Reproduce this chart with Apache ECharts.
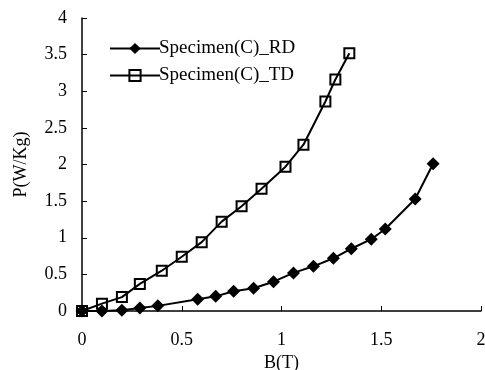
<!DOCTYPE html>
<html>
<head>
<meta charset="utf-8">
<script src="https://cdn.jsdelivr.net/npm/echarts/dist/echarts.min.js"></script>
<style>html,body{margin:0;padding:0;background:#fff}#c{width:485px;height:370px}</style>
</head>
<body>
<div id="c"></div>
<script>
var rdB = [0, 0.1, 0.2, 0.29, 0.38, 0.58, 0.67, 0.76, 0.86, 0.96, 1.06, 1.16, 1.26, 1.35, 1.45, 1.52, 1.67, 1.76];
var rdP = [0, 0, 0.01, 0.04, 0.07, 0.16, 0.2, 0.27, 0.31, 0.4, 0.52, 0.61, 0.72, 0.85, 0.98, 1.12, 1.53, 2.01];
var tdB = [0, 0.1, 0.2, 0.29, 0.4, 0.5, 0.6, 0.7, 0.8, 0.9, 1.02, 1.11, 1.22, 1.27, 1.34];
var tdP = [0, 0.1, 0.19, 0.37, 0.55, 0.74, 0.94, 1.22, 1.43, 1.67, 1.97, 2.27, 2.86, 3.16, 3.52];
var seriesNames = ['Specimen(C)_RD', 'Specimen(C)_TD'];
var xTitle = 'B(T)';
var yTitle = 'P(W/Kg)';

function pairs(xs, ys) { return xs.map(function (x, i) { return [x, ys[i]]; }); }

var font = 'Liberation Serif';
var chart = echarts.init(document.getElementById('c'));
chart.setOption({
  animation: false,
  backgroundColor: '#fff',
  grid: { left: 82, right: 4, top: 18, bottom: 59, containLabel: false, outerBoundsMode: 'none' },
  legend: {
    orient: 'vertical',
    left: 104, top: 34,
    itemWidth: 50, itemHeight: 14, itemGap: 8,
    textStyle: { fontFamily: font, fontSize: 19, color: '#000', padding: [0,0,0,-6] },
    data: seriesNames
  },
  xAxis: {
    type: 'value', min: 0, max: 2, interval: 0.5,
    name: xTitle, nameLocation: 'middle', nameGap: 38,
    nameTextStyle: { fontFamily: font, fontSize: 18, color: '#000' },
    axisLine: { show: true, lineStyle: { color: '#000', width: 1.5 } },
    axisTick: { show: true, inside: true, length: 5, lineStyle: { color: '#000' } },
    axisLabel: { fontFamily: font, fontSize: 18, color: '#000', margin: 20 },
    splitLine: { show: false }
  },
  yAxis: {
    type: 'value', min: 0, max: 4, interval: 0.5,
    name: yTitle, nameLocation: 'middle', nameGap: 52,
    nameTextStyle: { fontFamily: font, fontSize: 18, color: '#000' },
    axisLine: { show: true, lineStyle: { color: '#000', width: 1.5 } },
    axisTick: { show: true, inside: true, length: 5, lineStyle: { color: '#000' } },
    axisLabel: { fontFamily: font, fontSize: 18, color: '#000', margin: 15 },
    splitLine: { show: false }
  },
  series: [
    {
      name: seriesNames[0], type: 'line', data: pairs(rdB, rdP),
      symbol: 'diamond', symbolSize: [13, 13],
      lineStyle: { color: '#000', width: 2 },
      itemStyle: { color: '#000' }
    },
    {
      name: seriesNames[1], type: 'line', data: pairs(tdB, tdP),
      symbol: 'rect', symbolSize: 10,
      lineStyle: { color: '#000', width: 2 },
      itemStyle: { color: 'rgba(255,255,255,0)', borderColor: '#000', borderWidth: 2 }
    }
  ]
});
</script>
</body>
</html>
